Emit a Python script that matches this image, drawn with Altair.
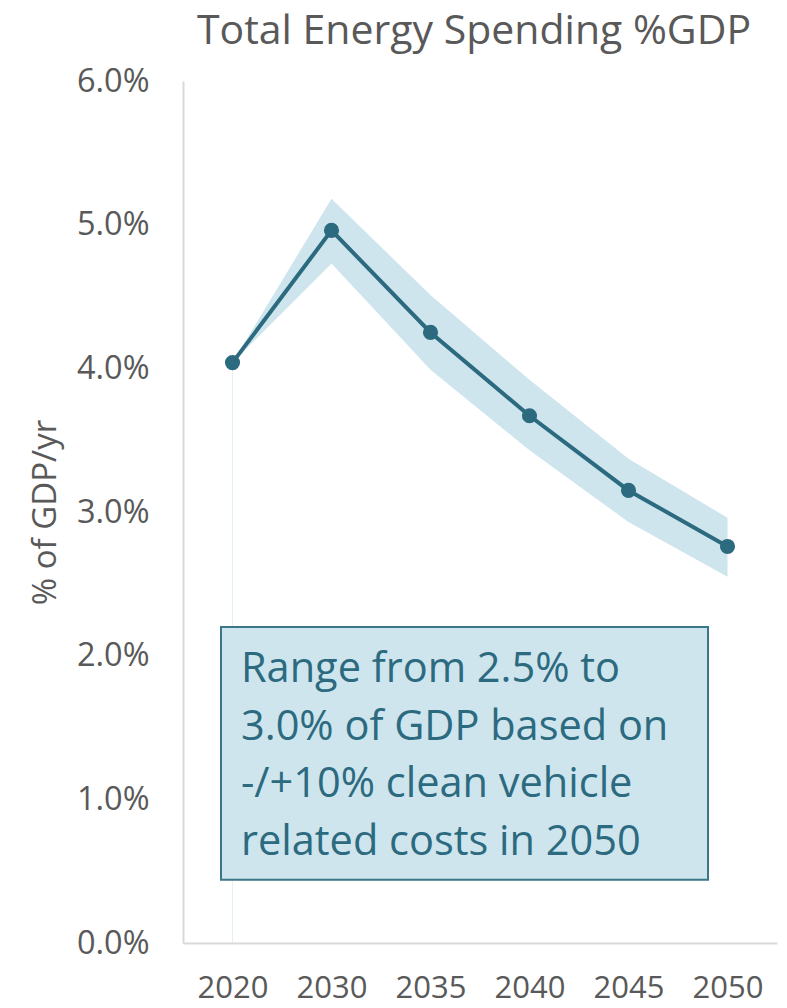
import altair as alt
import pandas as pd

years = ["2020", "2030", "2035", "2040", "2045", "2050"]
central = [4.04, 4.96, 4.25, 3.67, 3.15, 2.76]
low = [4.04, 4.73, 3.99, 3.43, 2.93, 2.55]
high = [4.04, 5.18, 4.51, 3.92, 3.37, 2.96]

note_lines = ["Range from 2.5% to", "3.0% of GDP based on",
              "-/+10% clean vehicle", "related costs in 2050"]
box_top = [2.20]
box_bottom = [0.44]

FONT = "Open Sans, sans-serif"
GRAY = "#595959"
LINE = "#2c6a7f"
BAND = "#cee5ee"

df = pd.DataFrame({"year": years, "central": central, "low": low, "high": high})

x = alt.X("year:O", sort=years,
          scale=alt.Scale(type="point", padding=0.5),
          axis=alt.Axis(title=None, labelAngle=0, labelFont=FONT, labelFontSize=31,
                        labelColor=GRAY, labelPadding=30, ticks=False,
                        domainColor="#d9d9d9", domainWidth=2, grid=False))
yscale = alt.Scale(domain=[0, 6], nice=False, zero=True)
yaxis = alt.Axis(title="% of GDP/yr", titleFont=FONT, titleFontSize=33, titleColor=GRAY,
                 titleFontWeight="normal", titlePadding=14,
                 values=[0, 1, 2, 3, 4, 5, 6],
                 labelExpr="format(datum.value, '.1f') + '%'",
                 labelFont=FONT, labelFontSize=32.5, labelColor=GRAY, labelPadding=34,
                 ticks=False, domainColor="#d9d9d9", domainWidth=2, grid=False)

base = alt.Chart(df)

band = base.mark_area(color=BAND, opacity=1).encode(
    x=x,
    y=alt.Y("low:Q", scale=yscale, axis=yaxis),
    y2="high:Q",
)

drop = base.transform_filter(alt.datum.year == "2020").mark_rule(
    color="#e3f0f5", strokeWidth=1).encode(
    x=x, y=alt.Y("central:Q", scale=yscale), y2=alt.datum(0))

line = base.mark_line(color=LINE, strokeWidth=4).encode(
    x=x, y=alt.Y("central:Q", scale=yscale))
pts = base.mark_point(color=LINE, filled=True, opacity=1, size=230).encode(
    x=x, y=alt.Y("central:Q", scale=yscale))

box_df = pd.DataFrame({"top": box_top, "bottom": box_bottom,
                       "text": [note_lines]})
box = alt.Chart(box_df).mark_rect(fill=BAND, stroke="#3b768b", strokeWidth=2).encode(
    x=alt.value(38), x2=alt.value(525),
    y=alt.Y("top:Q", scale=yscale), y2="bottom:Q")
note = alt.Chart(box_df).mark_text(align="left", baseline="top", font=FONT,
                                   fontSize=41.5, color=LINE, lineHeight=57.5).encode(
    x=alt.value(58), y=alt.value(568), text="text")

chart = alt.layer(band, drop, line, pts, box, note).properties(
    width=594, height=862,
    title=alt.TitleParams("Total Energy Spending %GDP", font=FONT, fontSize=41,
                          color=GRAY, fontWeight="normal", anchor="middle",
                          frame="group", offset=12, dx=-6),
    autosize=alt.AutoSizeParams(type="none"),
    padding={"left": 175, "top": 73, "right": 2, "bottom": 57},
).configure_view(stroke=None)

chart.save("out.html", embed_options={"renderer": "svg", "actions": False})
